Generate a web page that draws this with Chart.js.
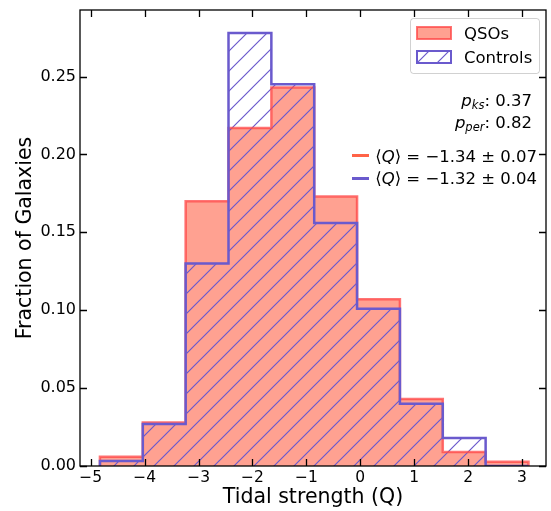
<!DOCTYPE html>
<html>
<head>
<meta charset="utf-8">
<script src="https://cdn.jsdelivr.net/npm/chart.js@4/dist/chart.umd.min.js"></script>
<style>
  body { margin: 0; background: #fff; }
  canvas { display: block; }
</style>
</head>
<body>
<canvas id="myChart" width="551" height="511"></canvas>
<script>
// bin edges of the histogram (Tidal strength Q)
const edges = [-4.83, -4.035, -3.24, -2.445, -1.65, -0.855, -0.06, 0.735, 1.53, 2.325, 3.12];
// fraction of galaxies per bin
const qsos = [0.006, 0.028, 0.170, 0.217, 0.243, 0.173, 0.107, 0.043, 0.009, 0.0027];
const controls = [0.0032, 0.027, 0.130, 0.278, 0.245, 0.156, 0.101, 0.040, 0.018, 0];

const xTicks = [-5, -4, -3, -2, -1, 0, 1, 2, 3];
const yTicks = [0, 0.05, 0.10, 0.15, 0.20, 0.25];

const RED_FILL = 'rgba(255,99,71,0.6)';
const RED_EDGE = 'rgba(255,70,70,0.75)';
const BLUE = 'rgb(106,90,205)';
const FONT = "'DejaVu Sans', sans-serif";

Chart.defaults.font.family = FONT;
Chart.defaults.color = '#000';

// step outline points: up at the first edge, across each bin, down at the last edge
function stepPoints(vals) {
  let pts = [{x: edges[0], y: 0}];
  for (let i = 0; i < vals.length; i++) {
    pts.push({x: edges[i], y: vals[i]});
  }
  pts.push({x: edges[edges.length - 1], y: 0});
  return pts;
}

const ctx = document.getElementById('myChart').getContext('2d');

function makeHatch(color) {
  const c = document.createElement('canvas');
  c.width = 20; c.height = 20;
  const g = c.getContext('2d');
  g.strokeStyle = color;
  g.lineWidth = 1.2;
  g.beginPath();
  g.moveTo(0, 20); g.lineTo(20, 0);
  g.moveTo(-10, 10); g.lineTo(10, -10);
  g.moveTo(10, 30); g.lineTo(30, 10);
  g.stroke();
  return ctx.createPattern(c, 'repeat');
}
const hatch = makeHatch(BLUE);

// frame, inward ticks, legend and text
const extras = {
  id: 'extras',
  afterDraw(chart) {
    const c = chart.ctx;
    const a = chart.chartArea;
    const xs = chart.scales.x, ys = chart.scales.y;
    c.save();
    c.strokeStyle = '#000';
    c.lineWidth = 1.3;
    c.strokeRect(a.left, a.top, a.right - a.left, a.bottom - a.top);
    c.beginPath();
    xTicks.forEach(v => {
      const px = Math.round(xs.getPixelForValue(v)) + 0.5;
      c.moveTo(px, a.bottom); c.lineTo(px, a.bottom - 7);
      c.moveTo(px, a.top); c.lineTo(px, a.top + 7);
    });
    yTicks.forEach(v => {
      const py = Math.round(ys.getPixelForValue(v)) + 0.5;
      c.moveTo(a.left, py); c.lineTo(a.left + 7, py);
      c.moveTo(a.right, py); c.lineTo(a.right - 7, py);
    });
    c.stroke();

    // legend box
    c.beginPath();
    c.roundRect(410.5, 18.5, 129, 55, 3);
    c.fillStyle = 'rgba(255,255,255,0.8)';
    c.fill();
    c.strokeStyle = 'rgba(0,0,0,0.18)';
    c.lineWidth = 1;
    c.stroke();

    c.fillStyle = RED_FILL;
    c.fillRect(417, 27, 34, 12);
    c.strokeStyle = RED_EDGE;
    c.lineWidth = 2;
    c.strokeRect(417, 27, 34, 12);

    c.fillStyle = '#fff';
    c.fillRect(417, 51, 34, 12);
    c.fillStyle = hatch;
    c.fillRect(417, 51, 34, 12);
    c.strokeStyle = BLUE;
    c.strokeRect(417, 51, 34, 12);

    c.fillStyle = '#000';
    c.font = '16.5px ' + FONT;
    c.textBaseline = 'alphabetic';
    c.textAlign = 'left';
    c.fillText('QSOs', 464, 39);
    c.fillText('Controls', 464, 63);

    // right-aligned math-ish lines
    function rich(parts, right, base) {
      let w = 0;
      parts.forEach(p => { c.font = p.f; w += c.measureText(p.t).width; });
      let x = right - w;
      parts.forEach(p => {
        c.font = p.f;
        c.fillText(p.t, x, base + (p.dy || 0));
        x += c.measureText(p.t).width;
      });
    }
    const N = '16.5px ' + FONT, I = 'italic 16.5px ' + FONT, S = 'italic 11.5px ' + FONT;
    rich([{t: 'p', f: I}, {t: 'ks', f: S, dy: 3}, {t: ': 0.37', f: N}], 532, 106);
    rich([{t: 'p', f: I}, {t: 'per', f: S, dy: 3}, {t: ': 0.82', f: N}], 532, 127.5);
    rich([{t: '\u27E8', f: N}, {t: 'Q', f: I}, {t: '\u27E9 = \u22121.34 \u00B1 0.07', f: N}], 537, 161.5);
    rich([{t: '\u27E8', f: N}, {t: 'Q', f: I}, {t: '\u27E9 = \u22121.32 \u00B1 0.04', f: N}], 537, 184);

    c.lineWidth = 3;
    c.strokeStyle = 'rgb(255,99,71)';
    c.beginPath(); c.moveTo(352, 155.5); c.lineTo(369, 155.5); c.stroke();
    c.strokeStyle = BLUE;
    c.beginPath(); c.moveTo(352, 178.5); c.lineTo(369, 178.5); c.stroke();
    c.restore();
  }
};

const myChart = new Chart(ctx, {
  type: 'line',
  data: {
    datasets: [
      { label: 'QSOs fill', data: stepPoints(qsos), stepped: 'before', fill: 'origin',
        backgroundColor: RED_FILL, borderColor: 'transparent', pointRadius: 0, order: 4 },
      { label: 'Controls fill', data: stepPoints(controls), stepped: 'before', fill: 'origin',
        backgroundColor: hatch, borderColor: 'transparent', pointRadius: 0, order: 3 },
      { label: 'QSOs', data: stepPoints(qsos), stepped: 'before', fill: false,
        borderColor: RED_EDGE, borderWidth: 2.5, pointRadius: 0, order: 2 },
      { label: 'Controls', data: stepPoints(controls), stepped: 'before', fill: false,
        borderColor: BLUE, borderWidth: 2.5, pointRadius: 0, order: 1 }
    ]
  },
  options: {
    responsive: false,
    animation: false,
    layout: { padding: { top: 10, right: 5, left: 0, bottom: 0 } },
    plugins: { legend: { display: false }, tooltip: { enabled: false } },
    scales: {
      x: {
        type: 'linear', min: -5.2, max: 3.445,
        grid: { display: false, drawTicks: false },
        border: { display: false },
        afterBuildTicks: s => { s.ticks = xTicks.map(v => ({value: v})); },
        afterFit: s => { s.height = 45; s.paddingLeft = 0; s.paddingRight = 0; },
        ticks: { padding: 3, font: { size: 15.5 }, maxRotation: 0,
          callback: v => String(v).replace('-', '\u2212') },
        title: { display: true, text: 'Tidal strength (Q)', font: { size: 20.5 },
          padding: { top: 0, bottom: 1 } }
      },
      y: {
        min: 0, max: 0.2927,
        grid: { display: false, drawTicks: false },
        border: { display: false },
        afterBuildTicks: s => { s.ticks = yTicks.map(v => ({value: v})); },
        afterFit: s => { s.width = 80; s.paddingTop = 0; s.paddingBottom = 0; },
        ticks: { padding: 4, font: { size: 16 }, callback: v => v.toFixed(2) },
        title: { display: true, text: 'Fraction of Galaxies', font: { size: 20.5 },
          padding: { top: 13, bottom: 0 } }
      }
    }
  },
  plugins: [extras]
});
</script>
</body>
</html>
